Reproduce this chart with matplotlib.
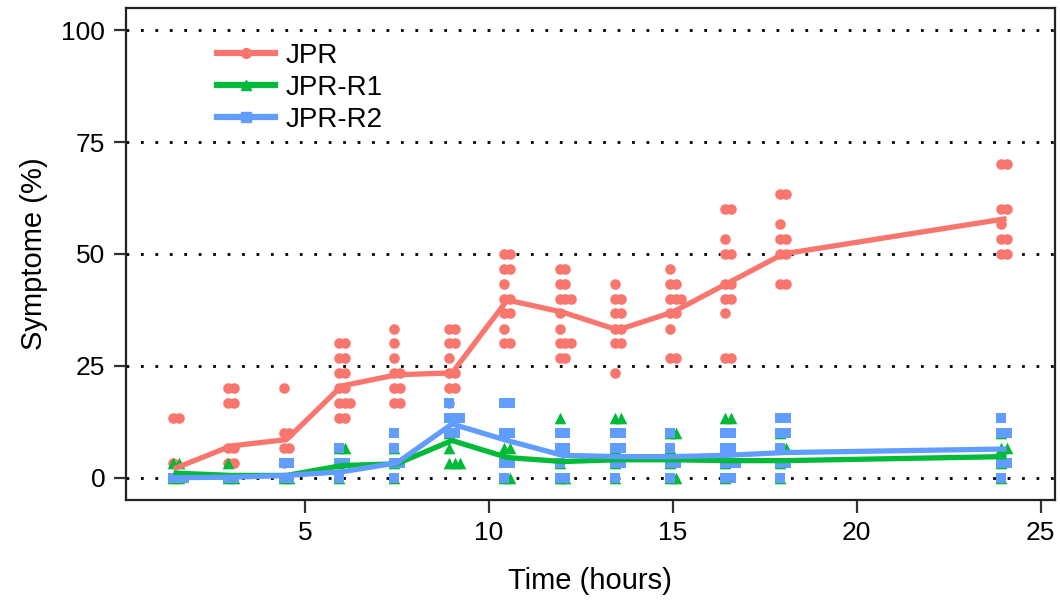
import matplotlib.pyplot as plt
from matplotlib.lines import Line2D

plt.rcParams['font.family'] = ['Liberation Sans', 'DejaVu Sans']

# Data
times = [1.5, 3, 4.5, 6, 7.5, 9, 10.5, 12, 13.5, 15, 16.5, 18, 24]

jpr_pts = [
    [13.3, 13.3, 3.3, 0],
    [20, 20, 16.7, 16.7, 6.7, 6.7, 3.3, 3.3],
    [20, 10, 10, 6.7, 6.7, 3.3],
    [30, 30, 26.7, 26.7, 23.3, 23.3, 20, 20, 16.7, 16.7, 16.7, 13.3, 13.3],
    [33.3, 30, 26.7, 23.3, 23.3, 20, 20, 16.7, 16.7],
    [33.3, 33.3, 30, 30, 26.7, 23.3, 23.3, 20, 20, 16.7],
    [50, 50, 46.7, 46.7, 43.3, 40, 40, 36.7, 36.7, 33.3, 30, 30],
    [46.7, 46.7, 43.3, 43.3, 40, 40, 40, 36.7, 33.3, 30, 30, 30, 26.7, 26.7],
    [43.3, 40, 40, 36.7, 36.7, 33.3, 33.3, 30, 30, 23.3],
    [46.7, 43.3, 43.3, 40, 40, 40, 36.7, 36.7, 33.3, 26.7, 26.7],
    [60, 60, 53.3, 50, 50, 43.3, 43.3, 40, 40, 36.7, 26.7, 26.7],
    [63.3, 63.3, 56.7, 53.3, 53.3, 50, 50, 43.3, 43.3],
    [70, 70, 60, 60, 56.7, 53.3, 53.3, 50, 50],
]
r1_pts = [
    [3.3, 3.3, 0, 0],
    [3.3, 0, 0],
    [0, 0],
    [6.7, 6.7, 3.3, 0],
    [6.7, 3.3, 0],
    [10, 6.7, 3.3, 3.3, 3.3],
    [10, 6.7, 6.7, 0, 0],
    [13.3, 6.7, 3.3, 0, 0],
    [13.3, 13.3, 6.7, 3.3, 0],
    [10, 10, 6.7, 3.3, 0, 0],
    [13.3, 13.3, 6.7, 3.3, 0],
    [10, 6.7, 6.7, 3.3, 0],
    [10, 6.7, 6.7, 3.3, 0],
]
r2_pts = [
    [0, 0, 0],
    [0, 0],
    [3.3, 3.3, 0, 0],
    [6.7, 3.3, 3.3, 0],
    [10, 6.7, 3.3, 3.3, 0],
    [16.7, 13.3, 13.3, 13.3, 10, 10],
    [16.7, 16.7, 10, 10, 3.3, 3.3, 0],
    [10, 10, 6.7, 6.7, 3.3, 0, 0],
    [10, 10, 6.7, 6.7, 3.3, 3.3, 0],
    [10, 6.7, 3.3, 3.3, 0],
    [10, 10, 6.7, 6.7, 3.3, 3.3, 3.3, 0, 0],
    [13.3, 13.3, 10, 10, 6.7, 3.3, 3.3, 0],
    [13.3, 10, 10, 3.3, 3.3, 0],
]

# mean lines
jpr_mean = [2.2, 7.1, 8.5, 20.5, 23.0, 23.4, 39.7, 37.0, 33.0, 37.0, 43.5, 50.0, 57.8]
r1_mean = [1.0, 0.5, 0.5, 2.7, 3.1, 8.3, 4.5, 3.6, 4.0, 4.0, 3.8, 3.8, 4.7]
r2_mean = [0.0, 0.1, 0.5, 1.3, 3.3, 12.0, 8.3, 5.0, 4.7, 4.7, 5.0, 5.6, 6.4]

labels = ['JPR', 'JPR-R1', 'JPR-R2']
colors = ['#F8766D', '#00BA38', '#619CFF']
markers = ['o', '^', 's']

offsets = [-0.08, 0.08, 0.22, -0.22]


def spread(t, vals):
    # small fixed horizontal spread so repeated values sit side by side
    xs = []
    seen = {}
    for v in vals:
        k = seen.get(v, 0)
        seen[v] = k + 1
        xs.append(t + offsets[k % len(offsets)])
    return xs


fig = plt.figure(figsize=(10.6, 6.01), dpi=100)
ax = fig.add_axes([0.119, 0.168, 0.876, 0.819])

for y in [0, 25, 50, 75, 100]:
    ax.axhline(y, color='black', lw=2, ls=(0, (1, 4.2)), zorder=0)

for pts, mean, c, m in zip([jpr_pts, r1_pts, r2_pts], [jpr_mean, r1_mean, r2_mean], colors, markers):
    for t, vals in zip(times, pts):
        ax.scatter(spread(t, vals), vals, marker=m, s=58 if m != '^' else 70, color=c, lw=0, zorder=2)
    ax.plot(times, mean, color=c, lw=3.8, zorder=3)

ax.set_xlim(0.14, 25.38)
ax.set_ylim(-5, 105)
ax.set_xticks([5, 10, 15, 20, 25])
ax.set_yticks([0, 25, 50, 75, 100])
ax.tick_params(labelsize=19, length=9, width=1.6, color='#333333', pad=6)
for s in ax.spines.values():
    s.set_linewidth(1.6)
    s.set_color('#222222')

ax.set_xlabel('Time (hours)', fontsize=21, labelpad=16)
ax.set_ylabel('Symptome (%)', fontsize=21, labelpad=10)

handles = [Line2D([], [], color=c, lw=4.5, marker=m, ms=7) for c, m in zip(colors, markers)]
ax.legend(handles, labels, loc='upper left', bbox_to_anchor=(0.083, 0.957), frameon=False,
          fontsize=20, handlelength=2.1, handletextpad=0.35, labelspacing=0.22, borderpad=0)

fig.savefig('out.png', dpi=100)
